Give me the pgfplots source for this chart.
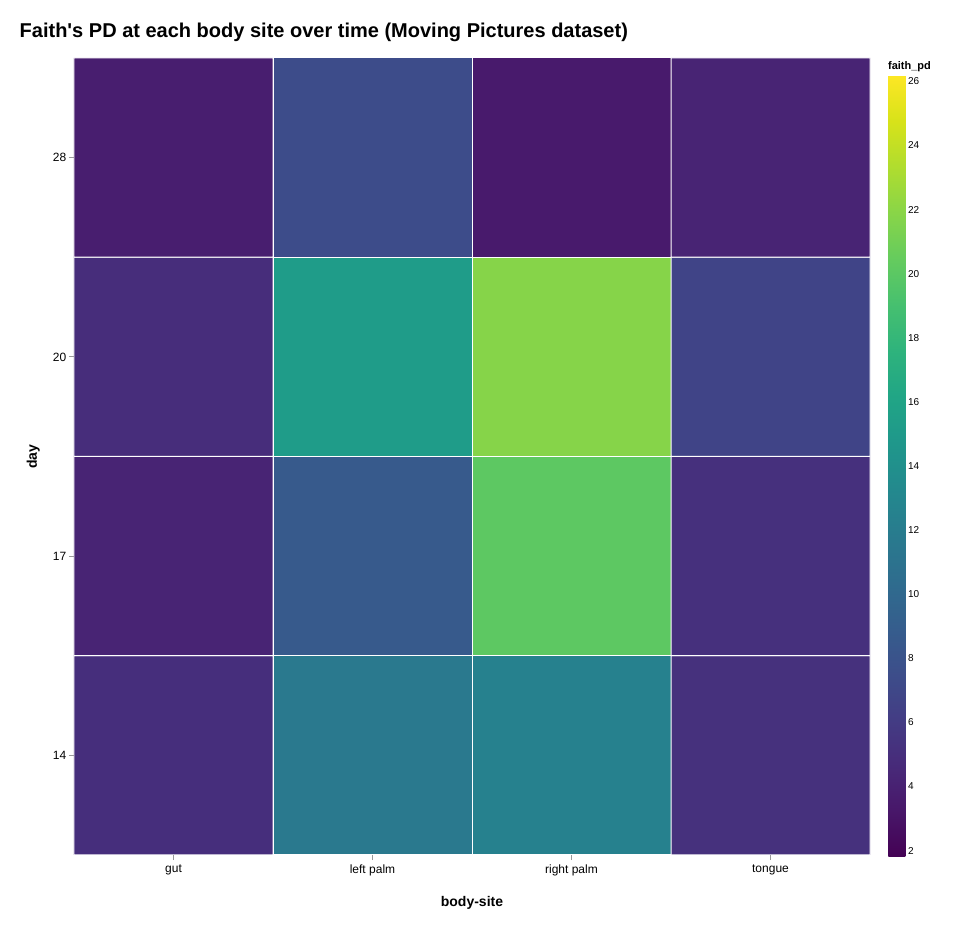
\documentclass[border=0pt]{standalone}
\usepackage{fontspec}
\setmainfont{Liberation Sans}
\usepackage{pgfplots}
\pgfplotsset{compat=1.18}
\begin{document}
\begin{tikzpicture}
\begin{axis}[
  scale only axis,
  width=597pt, height=597.75pt,
  xmin=-0.5, xmax=3.5, ymin=-0.5, ymax=3.5,
  xtick={0,1,2,3}, xticklabels={gut,left palm,right palm,tongue},
  ytick={0,1,2,3}, yticklabels={14,17,20,28},
  /pgf/number format/assume math mode=true,
  ticklabel style={font=\fontsize{9}{11}\selectfont},
  yticklabel style={xshift=1.5pt},
  axis x line*=bottom, axis y line*=left,
  x axis line style={draw=gray!80, line width=0.75pt, -},
  y axis line style={draw=none, -},
  tick style={draw=gray!80, line width=0.6pt},
  tick align=outside, major tick length=3.75pt,
  xlabel={\textbf{body-site}}, ylabel={\textbf{day}},
  xlabel style={font=\fontsize{10.5}{12}\selectfont, yshift=-8.25pt},
  ylabel style={font=\fontsize{10.5}{12}\selectfont, yshift=3pt},
  title={\textbf{Faith\textquotesingle s PD at each body site over time (Moving Pictures dataset)}},
  title style={font=\fontsize{15}{18}\selectfont, anchor=base west, at={(0,1)}, xshift=-44.25pt, yshift=9pt},
  colormap name=viridis,
  point meta min=1.8, point meta max=26.2,
  colorbar right,
  colorbar style={
    scale only axis,
    /pgf/number format/assume math mode=true,
    at={(parent axis.south east)}, anchor=south west,
    xshift=5.25pt, yshift=-1.5pt,
    width=12.75pt, height=586.5pt,
    ytick={2,4,...,26},
    yticklabel style={font=\fontsize{7.5}{9}\selectfont, xshift=-1.5pt},
    major tick length=0pt,
    axis line style={draw=none},
    title={\textbf{faith\_pd}},
    title style={font=\fontsize{8.25}{10}\selectfont, anchor=base west, at={(0,1)}, xshift=-3.75pt, yshift=-2.25pt},
  },
]
\addplot[matrix plot*, mesh/cols=4, point meta=explicit, draw=white, line width=0.75pt] table[meta=c] {
x y c
0 0 5.0
1 0 11.6
2 0 12.5
3 0 5.2
0 1 4.2
1 1 8.6
2 1 20.1
3 1 5.1
0 2 4.85
1 2 15.2
2 2 21.8
3 2 6.7
0 3 3.75
1 3 7.4
2 3 3.5
3 3 4.2
};
\end{axis}
\path ([xshift=-55.5pt,yshift=-54pt]current axis.south west) rectangle ([xshift=64.5pt,yshift=43.5pt]current axis.north east);
\end{tikzpicture}
\end{document}
